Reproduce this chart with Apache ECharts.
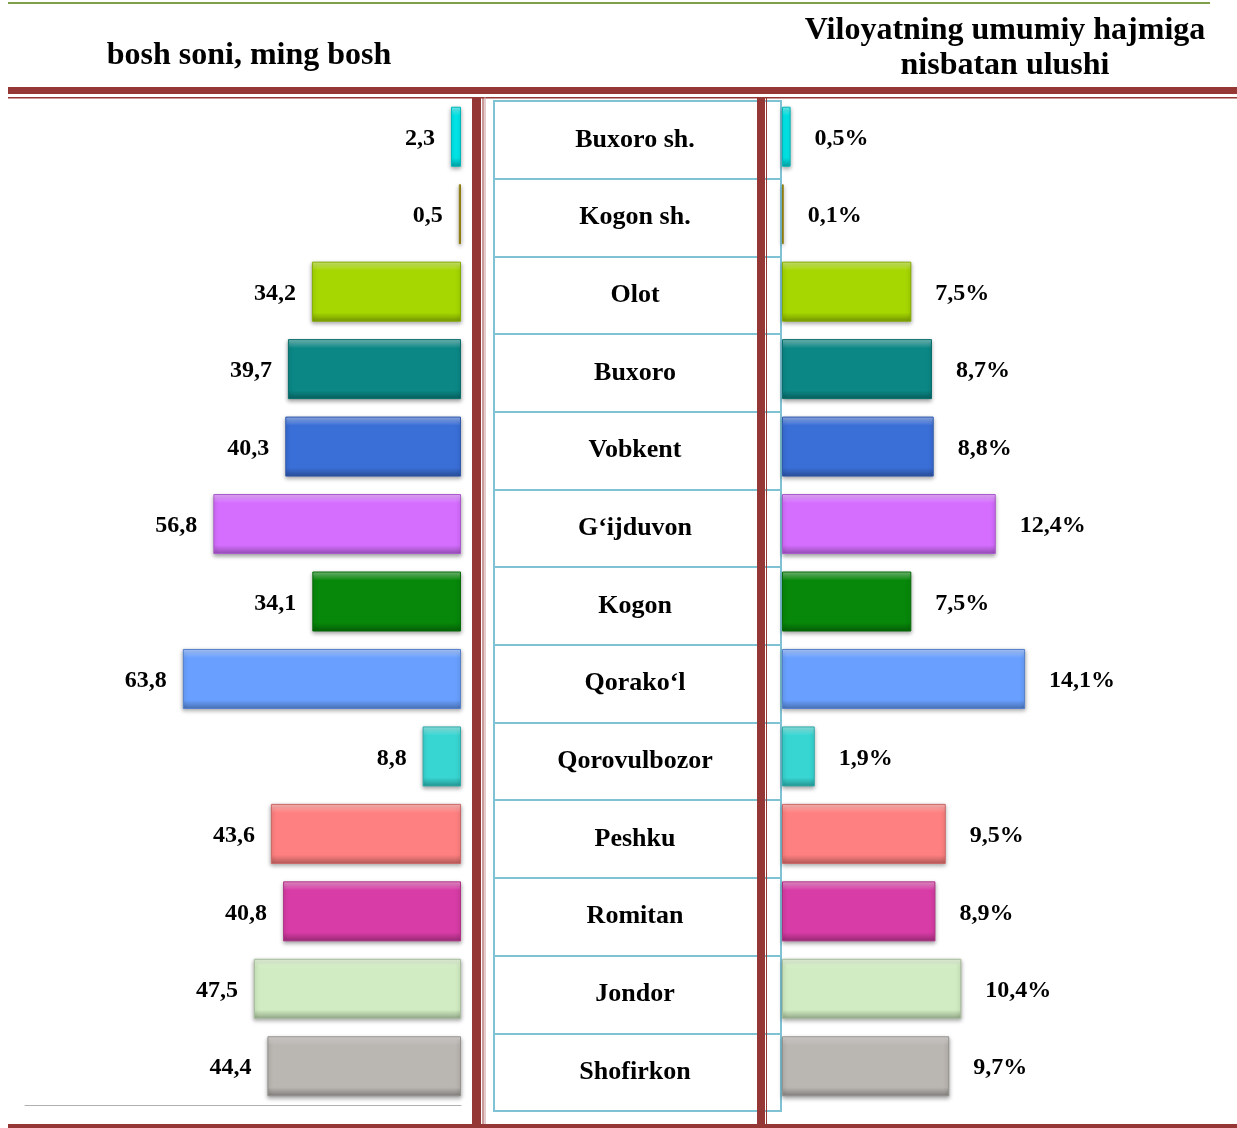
<!DOCTYPE html>
<html>
<head>
<meta charset="utf-8">
<script src="https://cdn.jsdelivr.net/npm/echarts@6/dist/echarts.min.js"></script>
<style>
  html, body { margin: 0; padding: 0; background: #fff; }
  #main { width: 1237px; height: 1128px; }
</style>
</head>
<body>
<div id="main"></div>
<script>
// tumanlar
const categories = ["Buxoro sh.", "Kogon sh.", "Olot", "Buxoro", "Vobkent", "G\u2018ijduvon", "Kogon",
  "Qorako\u2018l", "Qorovulbozor", "Peshku", "Romitan", "Jondor", "Shofirkon"];
// bosh soni, ming bosh
const headCount = [2.3, 0.5, 34.2, 39.7, 40.3, 56.8, 34.1, 63.8, 8.8, 43.6, 40.8, 47.5, 44.4];
// viloyat hajmiga nisbatan ulushi, %
const sharePct = [0.5, 0.1, 7.5, 8.7, 8.8, 12.4, 7.5, 14.1, 1.9, 9.5, 8.9, 10.4, 9.7];
const barColors = ["#00e6e8", "#b09a10", "#a6d700", "#0b8886", "#3a6fd8", "#d56eff", "#07880a",
  "#69a0ff", "#38d6d2", "#ff8080", "#d83ca6", "#d1ecc2", "#bab6b2"];

const serif = '"Liberation Serif", "Times New Roman", serif';
const red = '#953735';
const blue = '#7ec2d4';

function shade(hex, t) {
  const n = parseInt(hex.slice(1), 16);
  const f = c => t > 0 ? Math.round(c + (255 - c) * t) : Math.round(c * (1 + t));
  return 'rgb(' + f(n >> 16) + ',' + f((n >> 8) & 255) + ',' + f(n & 255) + ')';
}

function barItems(values) {
  return values.map((v, i) => {
    const c = barColors[i];
    return {
      value: v,
      itemStyle: {
        color: new echarts.graphic.LinearGradient(0, 0, 0, 1, [
          { offset: 0, color: shade(c, 0.45) },
          { offset: 0.15, color: c },
          { offset: 0.85, color: c },
          { offset: 1, color: shade(c, -0.3) }
        ]),
        borderColor: shade(c, -0.2),
        borderWidth: 1,
        shadowBlur: 4,
        shadowOffsetY: 2,
        shadowColor: 'rgba(0,0,0,0.35)'
      }
    };
  });
}

const labelFont = { fontFamily: serif, fontWeight: 'bold', fontSize: 24, color: '#000' };

const chart = echarts.init(document.getElementById('main'));
chart.setOption({
  animation: false,
  backgroundColor: '#fff',
  grid: [
    { left: 25, right: 776, top: 98, bottom: 23 },
    { left: 782, right: 24, top: 98, bottom: 23 },
    { left: 494, right: 456, top: 101, bottom: 17, show: true, borderColor: blue, borderWidth: 2 }
  ],
  xAxis: [
    { gridIndex: 0, type: 'value', min: 0, max: 100, inverse: true,
      axisLine: { show: true, lineStyle: { color: '#b0b0b0', width: 1 } },
      axisTick: { show: false }, axisLabel: { show: false }, splitLine: { show: false } },
    { gridIndex: 1, type: 'value', min: 0, max: 25, show: false },
    { gridIndex: 2, type: 'value', show: false }
  ],
  yAxis: [
    { gridIndex: 0, type: 'category', inverse: true, data: categories, show: false },
    { gridIndex: 1, type: 'category', inverse: true, data: categories, show: false },
    { gridIndex: 2, type: 'category', inverse: true, data: categories,
      axisLine: { show: false }, axisTick: { show: false },
      splitLine: { show: true, interval: 0, lineStyle: { color: blue, width: 2 } },
      axisLabel: { align: 'center', margin: -141, fontFamily: serif, fontWeight: 'bold',
        fontSize: 26, color: '#000' } }
  ],
  series: [
    {
      type: 'bar', xAxisIndex: 0, yAxisIndex: 0, barWidth: 60,
      data: barItems(headCount),
      label: { show: true, position: 'left', distance: 16, offset: [0, 2], ...labelFont,
        formatter: p => String(p.value).replace('.', ',') }
    },
    {
      type: 'bar', xAxisIndex: 1, yAxisIndex: 1, barWidth: 60,
      data: barItems(sharePct),
      label: { show: true, position: 'right', distance: 24, offset: [0, 2], ...labelFont,
        formatter: p => String(p.value).replace('.', ',') + '%' }
    }
  ],
  graphic: [
    { type: 'text', x: 249, y: 56, z: 100,
      style: { text: 'bosh soni, ming bosh', font: 'bold 32px ' + serif, fill: '#000',
        align: 'center', verticalAlign: 'middle' } },
    { type: 'text', x: 1005, y: 48, z: 100,
      style: { text: 'Viloyatning umumiy hajmiga\nnisbatan ulushi', font: 'bold 32px ' + serif,
        lineHeight: 35, fill: '#000', align: 'center', verticalAlign: 'middle' } },
    // yashil chiziq tepada
    { type: 'rect', z: 100, shape: { x: 8, y: 2, width: 1202, height: 2 }, style: { fill: '#7f9f4a' } },
    // qizil ramkalar
    { type: 'rect', z: 100, shape: { x: 8, y: 87, width: 1229, height: 7 }, style: { fill: red } },
    { type: 'rect', z: 100, shape: { x: 8, y: 97, width: 1229, height: 1.5 }, style: { fill: red } },
    { type: 'rect', z: 100, shape: { x: 472, y: 97, width: 9, height: 1031 }, style: { fill: red } },
    { type: 'rect', z: 100, shape: { x: 482.5, y: 97, width: 1, height: 1031 }, style: { fill: red } },
    { type: 'rect', z: 100, shape: { x: 484.5, y: 97, width: 1, height: 1031 }, style: { fill: '#c99' } },
    { type: 'rect', z: 100, shape: { x: 757, y: 97, width: 8, height: 1031 }, style: { fill: red } },
    { type: 'rect', z: 100, shape: { x: 766, y: 97, width: 1, height: 1031 }, style: { fill: red } },
    { type: 'rect', z: 100, shape: { x: 8, y: 1124, width: 1229, height: 4 }, style: { fill: red } }
  ]
});
</script>
</body>
</html>
